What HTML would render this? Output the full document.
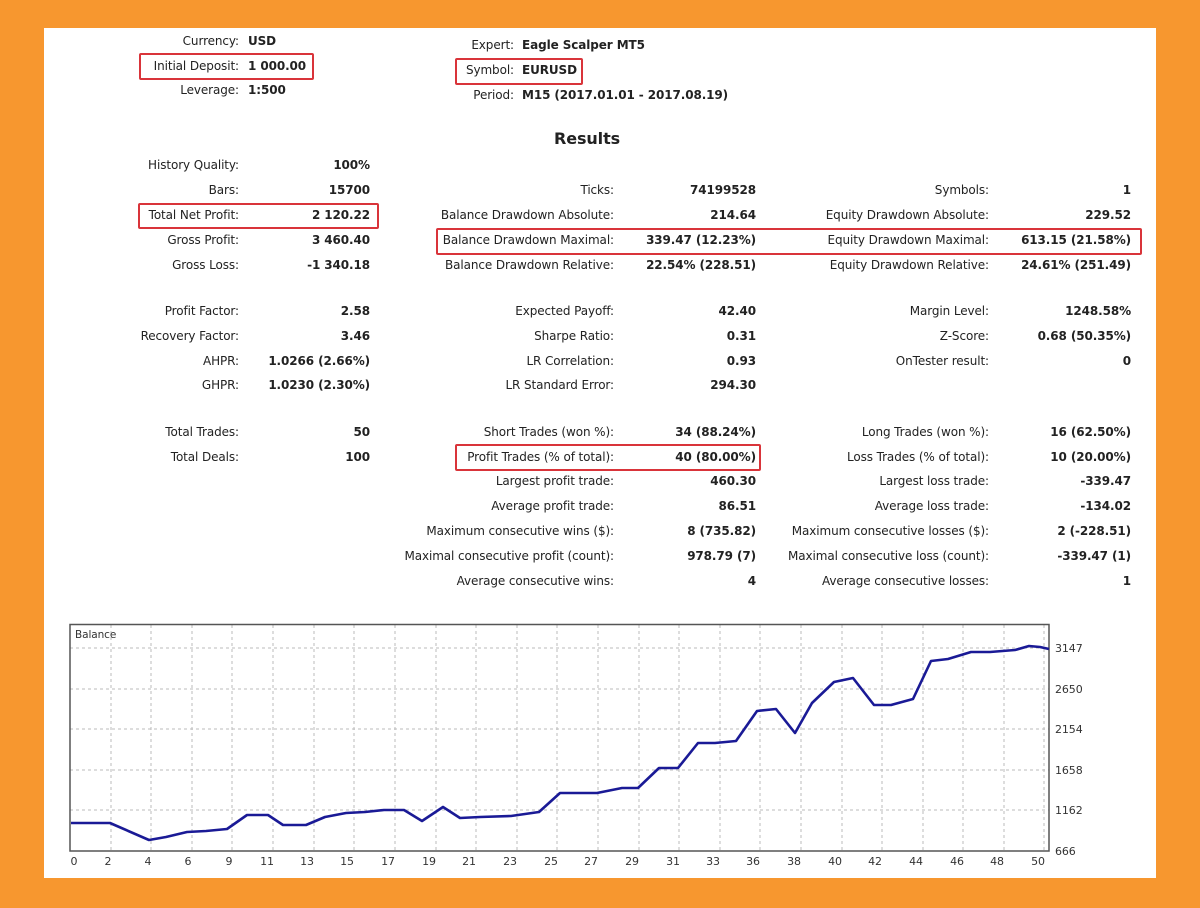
<!DOCTYPE html><html><head><meta charset="utf-8"><style>
body{margin:0;width:1200px;height:908px;background:#f7972f;position:relative;overflow:hidden;font-family:"DejaVu Sans","Liberation Sans",sans-serif;font-size:12px;letter-spacing:-0.1px;color:#222}
#p{position:absolute;left:44px;top:28px;width:1112px;height:850px;background:#fff}
.t{position:absolute;white-space:nowrap;line-height:16px}
.b{font-weight:bold}
.r{position:absolute;border:2px solid #d9343a;border-radius:2px}
</style></head><body><div id="p"></div>
<div class="t" style="top:33px;right:961px">Currency:</div><div class="t b" style="top:33px;left:248px">USD</div>
<div class="t" style="top:58px;right:961px">Initial Deposit:</div><div class="t b" style="top:58px;left:248px">1 000.00</div>
<div class="t" style="top:82px;right:961px">Leverage:</div><div class="t b" style="top:82px;left:248px">1:500</div>
<div class="t" style="top:37px;right:686px">Expert:</div><div class="t b" style="top:37px;left:522px">Eagle Scalper MT5</div>
<div class="t" style="top:62px;right:686px">Symbol:</div><div class="t b" style="top:62px;left:522px">EURUSD</div>
<div class="t" style="top:87px;right:686px">Period:</div><div class="t b" style="top:87px;left:522px">M15 (2017.01.01 - 2017.08.19)</div>
<div class="t b" style="top:130px;left:554px;font-size:16px;line-height:18px">Results</div>

<div class="t" style="top:157px;right:961px">History Quality:</div><div class="t b" style="top:157px;right:830px">100%</div>
<div class="t" style="top:182px;right:961px">Bars:</div><div class="t b" style="top:182px;right:830px">15700</div>
<div class="t" style="top:207px;right:961px">Total Net Profit:</div><div class="t b" style="top:207px;right:830px">2 120.22</div>
<div class="t" style="top:232px;right:961px">Gross Profit:</div><div class="t b" style="top:232px;right:830px">3 460.40</div>
<div class="t" style="top:257px;right:961px">Gross Loss:</div><div class="t b" style="top:257px;right:830px">-1 340.18</div>

<div class="t" style="top:182px;right:586px">Ticks:</div><div class="t b" style="top:182px;right:444px">74199528</div>
<div class="t" style="top:207px;right:586px">Balance Drawdown Absolute:</div><div class="t b" style="top:207px;right:444px">214.64</div>
<div class="t" style="top:232px;right:586px">Balance Drawdown Maximal:</div><div class="t b" style="top:232px;right:444px">339.47 (12.23%)</div>
<div class="t" style="top:257px;right:586px">Balance Drawdown Relative:</div><div class="t b" style="top:257px;right:444px">22.54% (228.51)</div>

<div class="t" style="top:182px;right:211px">Symbols:</div><div class="t b" style="top:182px;right:69px">1</div>
<div class="t" style="top:207px;right:211px">Equity Drawdown Absolute:</div><div class="t b" style="top:207px;right:69px">229.52</div>
<div class="t" style="top:232px;right:211px">Equity Drawdown Maximal:</div><div class="t b" style="top:232px;right:69px">613.15 (21.58%)</div>
<div class="t" style="top:257px;right:211px">Equity Drawdown Relative:</div><div class="t b" style="top:257px;right:69px">24.61% (251.49)</div>

<div class="t" style="top:303px;right:961px">Profit Factor:</div><div class="t b" style="top:303px;right:830px">2.58</div>
<div class="t" style="top:328px;right:961px">Recovery Factor:</div><div class="t b" style="top:328px;right:830px">3.46</div>
<div class="t" style="top:353px;right:961px">AHPR:</div><div class="t b" style="top:353px;right:830px">1.0266 (2.66%)</div>
<div class="t" style="top:377px;right:961px">GHPR:</div><div class="t b" style="top:377px;right:830px">1.0230 (2.30%)</div>

<div class="t" style="top:303px;right:586px">Expected Payoff:</div><div class="t b" style="top:303px;right:444px">42.40</div>
<div class="t" style="top:328px;right:586px">Sharpe Ratio:</div><div class="t b" style="top:328px;right:444px">0.31</div>
<div class="t" style="top:353px;right:586px">LR Correlation:</div><div class="t b" style="top:353px;right:444px">0.93</div>
<div class="t" style="top:377px;right:586px">LR Standard Error:</div><div class="t b" style="top:377px;right:444px">294.30</div>

<div class="t" style="top:303px;right:211px">Margin Level:</div><div class="t b" style="top:303px;right:69px">1248.58%</div>
<div class="t" style="top:328px;right:211px">Z-Score:</div><div class="t b" style="top:328px;right:69px">0.68 (50.35%)</div>
<div class="t" style="top:353px;right:211px">OnTester result:</div><div class="t b" style="top:353px;right:69px">0</div>

<div class="t" style="top:424px;right:961px">Total Trades:</div><div class="t b" style="top:424px;right:830px">50</div>
<div class="t" style="top:449px;right:961px">Total Deals:</div><div class="t b" style="top:449px;right:830px">100</div>

<div class="t" style="top:424px;right:586px">Short Trades (won %):</div><div class="t b" style="top:424px;right:444px">34 (88.24%)</div>
<div class="t" style="top:449px;right:586px">Profit Trades (% of total):</div><div class="t b" style="top:449px;right:444px">40 (80.00%)</div>
<div class="t" style="top:473px;right:586px">Largest profit trade:</div><div class="t b" style="top:473px;right:444px">460.30</div>
<div class="t" style="top:498px;right:586px">Average profit trade:</div><div class="t b" style="top:498px;right:444px">86.51</div>
<div class="t" style="top:523px;right:586px">Maximum consecutive wins ($):</div><div class="t b" style="top:523px;right:444px">8 (735.82)</div>
<div class="t" style="top:548px;right:586px">Maximal consecutive profit (count):</div><div class="t b" style="top:548px;right:444px">978.79 (7)</div>
<div class="t" style="top:573px;right:586px">Average consecutive wins:</div><div class="t b" style="top:573px;right:444px">4</div>

<div class="t" style="top:424px;right:211px">Long Trades (won %):</div><div class="t b" style="top:424px;right:69px">16 (62.50%)</div>
<div class="t" style="top:449px;right:211px">Loss Trades (% of total):</div><div class="t b" style="top:449px;right:69px">10 (20.00%)</div>
<div class="t" style="top:473px;right:211px">Largest loss trade:</div><div class="t b" style="top:473px;right:69px">-339.47</div>
<div class="t" style="top:498px;right:211px">Average loss trade:</div><div class="t b" style="top:498px;right:69px">-134.02</div>
<div class="t" style="top:523px;right:211px">Maximum consecutive losses ($):</div><div class="t b" style="top:523px;right:69px">2 (-228.51)</div>
<div class="t" style="top:548px;right:211px">Maximal consecutive loss (count):</div><div class="t b" style="top:548px;right:69px">-339.47 (1)</div>
<div class="t" style="top:573px;right:211px">Average consecutive losses:</div><div class="t b" style="top:573px;right:69px">1</div>

<div class="r" style="left:139px;top:53px;width:171px;height:23px"></div>
<div class="r" style="left:455px;top:58px;width:124px;height:23px"></div>
<div class="r" style="left:138px;top:203px;width:237px;height:22px"></div>
<div class="r" style="left:436px;top:228px;width:702px;height:23px"></div>
<div class="r" style="left:455px;top:444px;width:302px;height:23px"></div>

<svg style="position:absolute;left:0;top:0" width="1200" height="908">
<g stroke="#bbb" stroke-dasharray="3,3" stroke-width="1">
<line x1="70" x2="1049" y1="648" y2="648"/><line x1="70" x2="1049" y1="689" y2="689"/><line x1="70" x2="1049" y1="729" y2="729"/><line x1="70" x2="1049" y1="770" y2="770"/><line x1="70" x2="1049" y1="810" y2="810"/>
</g>
<g stroke="#bbb" stroke-dasharray="3,3">
<line x1="111" x2="111" y1="625" y2="851"/><line x1="151" x2="151" y1="625" y2="851"/><line x1="192" x2="192" y1="625" y2="851"/><line x1="232" x2="232" y1="625" y2="851"/><line x1="273" x2="273" y1="625" y2="851"/><line x1="314" x2="314" y1="625" y2="851"/><line x1="354" x2="354" y1="625" y2="851"/><line x1="395" x2="395" y1="625" y2="851"/><line x1="436" x2="436" y1="625" y2="851"/><line x1="476" x2="476" y1="625" y2="851"/><line x1="517" x2="517" y1="625" y2="851"/><line x1="557" x2="557" y1="625" y2="851"/><line x1="598" x2="598" y1="625" y2="851"/><line x1="639" x2="639" y1="625" y2="851"/><line x1="679" x2="679" y1="625" y2="851"/><line x1="720" x2="720" y1="625" y2="851"/><line x1="760" x2="760" y1="625" y2="851"/><line x1="801" x2="801" y1="625" y2="851"/><line x1="842" x2="842" y1="625" y2="851"/><line x1="882" x2="882" y1="625" y2="851"/><line x1="923" x2="923" y1="625" y2="851"/><line x1="963" x2="963" y1="625" y2="851"/><line x1="1004" x2="1004" y1="625" y2="851"/><line x1="1044" x2="1044" y1="625" y2="851"/>
</g>
<path d="M70 851V624.5H1049V851Z" fill="none" stroke="#555" stroke-width="1.5"/>
<text x="75" y="638" font-family="DejaVu Sans,sans-serif" font-size="10.5" fill="#333">Balance</text>
<polyline fill="none" stroke="#1a1a96" stroke-width="2.6" stroke-linejoin="round" points="71,823 110,823 149,840 166,837 187,832 206,831 227,829 247,815 268,815 283,825 306,825 325,817 346,813 365,812 384,810 404,810 422,821 443,807 460,818 480,817 511,816 539,812 560,793 597,793 622,788 638,788 659,768 678,768 698,743 715,743 736,741 757,711 776,709 795,733 812,703 834,682 853,678 874,705 891,705 913,699 931,661 948,659 971,652 990,652 1015,650 1029,646 1040,647 1049,649"/>
<g font-family="DejaVu Sans,sans-serif" font-size="11" fill="#333" text-anchor="middle">
<text x="74" y="865">0</text><text x="108" y="865">2</text><text x="148" y="865">4</text><text x="188" y="865">6</text><text x="229" y="865">9</text><text x="267" y="865">11</text><text x="307" y="865">13</text><text x="347" y="865">15</text><text x="388" y="865">17</text><text x="429" y="865">19</text><text x="469" y="865">21</text><text x="510" y="865">23</text><text x="551" y="865">25</text><text x="591" y="865">27</text><text x="632" y="865">29</text><text x="673" y="865">31</text><text x="713" y="865">33</text><text x="753" y="865">36</text><text x="794" y="865">38</text><text x="835" y="865">40</text><text x="875" y="865">42</text><text x="916" y="865">44</text><text x="957" y="865">46</text><text x="997" y="865">48</text><text x="1038" y="865">50</text>
</g>
<g font-family="DejaVu Sans,sans-serif" font-size="11" fill="#333">
<text x="1055" y="652">3147</text><text x="1055" y="693">2650</text><text x="1055" y="733">2154</text><text x="1055" y="774">1658</text><text x="1055" y="814">1162</text><text x="1055" y="855">666</text>
</g>
</svg>
</body></html>
